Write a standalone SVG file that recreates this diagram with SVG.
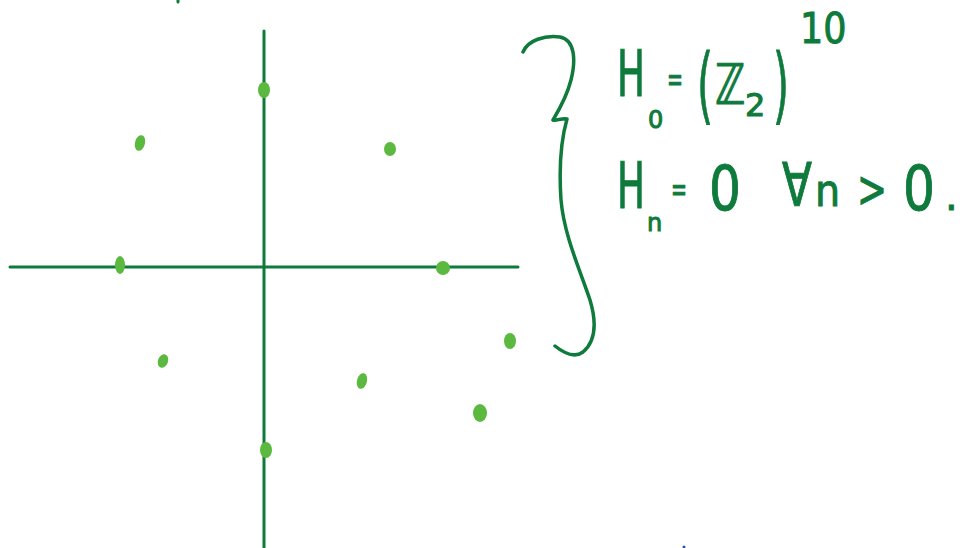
<svg xmlns="http://www.w3.org/2000/svg" width="966" height="548" viewBox="0 0 966 548">
<style>
.ax{stroke:#0e7a3b;stroke-width:3;fill:none;stroke-linecap:round}
.br{stroke:#0e7a3b;stroke-width:3.5;fill:none;stroke-linecap:round;stroke-linejoin:round}
.dot{fill:#5bb93f}
.t{fill:#0e7a3b;stroke:#0e7a3b;stroke-width:1;font-family:"DejaVu Sans","Liberation Sans",sans-serif}
</style>
<rect width="966" height="548" fill="#fff"/>
<g id="axes">
<line class="ax" x1="10" y1="267" x2="518" y2="267"/>
<line class="ax" x1="264" y1="31" x2="264" y2="548"/>
<line class="ax" x1="178" y1="0" x2="178" y2="2"/>
</g>
<g id="points">
<ellipse class="dot" cx="264" cy="90" rx="6" ry="8"/>
<ellipse class="dot" cx="140" cy="143" rx="5" ry="8" transform="rotate(15 140 143)"/>
<ellipse class="dot" cx="390" cy="149" rx="6" ry="7"/>
<ellipse class="dot" cx="120" cy="265" rx="5" ry="9"/>
<ellipse class="dot" cx="443" cy="268" rx="7" ry="7"/>
<ellipse class="dot" cx="510" cy="341" rx="6" ry="8"/>
<ellipse class="dot" cx="163" cy="361" rx="5" ry="7" transform="rotate(20 163 361)"/>
<ellipse class="dot" cx="362" cy="381" rx="5" ry="8" transform="rotate(15 362 381)"/>
<ellipse class="dot" cx="480" cy="413" rx="7" ry="9"/>
<ellipse class="dot" cx="266" cy="450" rx="6" ry="8"/>
</g>
<g id="brace">
<path class="br" d="M523,52 C528,40 545,35 560,37 C575,40 576,60 571,80 C567,96 559,110 553,120 C556,121 562,118 567,119 C561,140 559,170 561,200 C564,235 580,270 590,300 C596,320 597,340 583,352 C575,358 565,354 555,346"/>
</g>
<g id="formula">
<text class="t" font-size="64" transform="translate(617,96) scale(0.58,1)">H</text>
<text class="t" font-size="24" x="648" y="128">0</text>
<text class="t" font-size="34" transform="translate(667,91) scale(0.56,1)">=</text>
<text class="t" font-size="84" transform="translate(697,114) scale(0.49,1)">(</text>
<text class="t" font-size="56" transform="translate(715,104) scale(0.73,1)">ℤ</text>
<text class="t" font-size="32" x="745" y="116">2</text>
<text class="t" font-size="84" transform="translate(773,114) scale(0.49,1)">)</text>
<text class="t" font-size="42" transform="translate(800,43) scale(0.87,1)">10</text>
<text class="t" font-size="64" transform="translate(617,208) scale(0.58,1)">H</text>
<text class="t" font-size="24" x="647" y="231">n</text>
<text class="t" font-size="34" transform="translate(671,201) scale(0.56,1)">=</text>
<text class="t" font-size="62" transform="translate(709,210) scale(0.81,1)">0</text>
<text class="t" font-size="60" transform="translate(782,206) scale(0.73,1)">∀</text>
<text class="t" font-size="44" transform="translate(815,206) scale(0.9,1)">n</text>
<text class="t" font-size="52" transform="translate(857,207) scale(0.69,1)">&gt;</text>
<text class="t" font-size="62" transform="translate(903,210) scale(0.81,1)">0</text>
<text class="t" font-size="40" x="945" y="210">.</text>
</g>
<circle cx="684" cy="547" r="1.5" fill="#2a4fb0"/>
</svg>
